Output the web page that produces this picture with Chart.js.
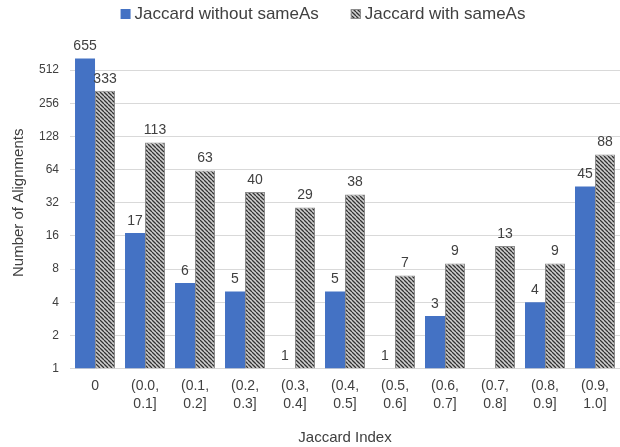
<!DOCTYPE html>
<html>
<head>
<meta charset="utf-8">
<script src="https://cdn.jsdelivr.net/npm/chart.js@4"></script>
<style>
  html, body { margin: 0; padding: 0; background: #fff; }
  #wrap { width: 620px; height: 447px; }
</style>
</head>
<body>
<div id="wrap"><canvas id="jaccardChart"></canvas></div>
<script>
const categories = ['0', ['(0.0,', '0.1]'], ['(0.1,', '0.2]'], ['(0.2,', '0.3]'], ['(0.3,', '0.4]'],
  ['(0.4,', '0.5]'], ['(0.5,', '0.6]'], ['(0.6,', '0.7]'], ['(0.7,', '0.8]'], ['(0.8,', '0.9]'], ['(0.9,', '1.0]']];
const withoutSameAs = [655, 17, 6, 5, 1, 5, 1, 3, null, 4, 45];
const withSameAs = [333, 113, 63, 40, 29, 38, 7, 9, 13, 9, 88];
const yTicks = [1, 2, 4, 8, 16, 32, 64, 128, 256, 512];

const FONT = '"Liberation Sans", "Noto Sans", sans-serif';
const TEXT = '#404040';

// diagonal hatch for the second series
function makeHatch() {
    const c = document.createElement('canvas');
    c.width = 4; c.height = 4;
    const g = c.getContext('2d');
    g.fillStyle = '#d0d0d0';
    g.fillRect(0, 0, 4, 4);
    g.strokeStyle = '#333333';
    g.lineWidth = 1.3;
    g.beginPath();
    for (let k = -1; k <= 1; k++) {
        g.moveTo(k * 4, 0);
        g.lineTo(k * 4 + 4, 4);
    }
    g.stroke();
    return document.getElementById('jaccardChart').getContext('2d').createPattern(c, 'repeat');
}
const hatch = makeHatch();

// value labels above each bar
const valueLabels = {
    id: 'valueLabels',
    afterDatasetsDraw(chart) {
        const ctx = chart.ctx;
        ctx.save();
        ctx.font = '14px ' + FONT;
        ctx.fillStyle = TEXT;
        ctx.textAlign = 'center';
        ctx.textBaseline = 'bottom';
        chart.data.datasets.forEach((ds, i) => {
            chart.getDatasetMeta(i).data.forEach((bar, j) => {
                const v = ds.data[j];
                if (v === null) return;
                ctx.fillText(v, bar.x, bar.y - 5);
            });
        });
        ctx.restore();
    }
};

// legend drawn by hand: the built-in one can't be placed like the original
const topLegend = {
    id: 'topLegend',
    afterDraw(chart) {
        const ctx = chart.ctx;
        const box = 10, gap = 4, spacing = 32, cx = 323, cy = 14;
        ctx.save();
        ctx.font = '17px ' + FONT;
        ctx.textBaseline = 'middle';
        const items = chart.data.datasets.map(ds => ({
            text: ds.label,
            fill: ds.backgroundColor,
            stroke: ds.borderWidth ? ds.borderColor : null,
            w: box + gap + ctx.measureText(ds.label).width
        }));
        const total = items.reduce((s, it) => s + it.w, 0) + spacing * (items.length - 1);
        let x = cx - total / 2;
        items.forEach(it => {
            ctx.fillStyle = it.fill;
            ctx.fillRect(x, cy - box / 2, box, box);
            if (it.stroke) {
                ctx.strokeStyle = it.stroke;
                ctx.lineWidth = 1;
                ctx.strokeRect(x + 0.5, cy - box / 2 + 0.5, box - 1, box - 1);
            }
            ctx.fillStyle = TEXT;
            ctx.fillText(it.text, x + box + gap, cy);
            x += it.w + spacing;
        });
        ctx.restore();
    }
};

const ctx = document.getElementById('jaccardChart').getContext('2d');
const jaccardChart = new Chart(ctx, {
    type: 'bar',
    data: {
        labels: categories,
        datasets: [{
            label: 'Jaccard without sameAs',
            data: withoutSameAs,
            backgroundColor: '#4472c4',
            borderWidth: 0
        }, {
            label: 'Jaccard with sameAs',
            data: withSameAs,
            backgroundColor: hatch,
            borderColor: '#8c8c8c',
            borderWidth: 1,
            borderSkipped: 'bottom'
        }]
    },
    options: {
        responsive: true,
        maintainAspectRatio: false,
        animation: false,
        layout: { padding: { left: 10, right: 0, top: 37, bottom: 0 } },
        datasets: { bar: { categoryPercentage: 0.8, barPercentage: 1.0 } },
        plugins: {
            legend: { display: false },
            tooltip: { enabled: false }
        },
        scales: {
            x: {
                grid: { display: false, drawTicks: false },
                border: { color: '#d9d9d9' },
                ticks: { font: { family: FONT, size: 14, lineHeight: 1.3 }, color: TEXT, maxRotation: 0, autoSkip: false, padding: 8 },
                title: { display: true, text: 'Jaccard Index', font: { family: FONT, size: 15 }, color: TEXT, padding: { top: 8, bottom: 0 } }
            },
            y: {
                type: 'logarithmic',
                min: 1,
                max: 1024,
                afterBuildTicks: (scale) => { scale.ticks = yTicks.map(v => ({ value: v })); },
                grid: { color: '#d9d9d9', drawTicks: false },
                border: { display: false },
                ticks: { font: { family: FONT, size: 12 }, color: TEXT, padding: 11, callback: (v) => v },
                title: { display: true, text: 'Number of Alignments', font: { family: FONT, size: 15 }, color: TEXT, padding: { top: 0, bottom: 0 } }
            }
        }
    },
    plugins: [valueLabels, topLegend]
});
</script>
</body>
</html>
